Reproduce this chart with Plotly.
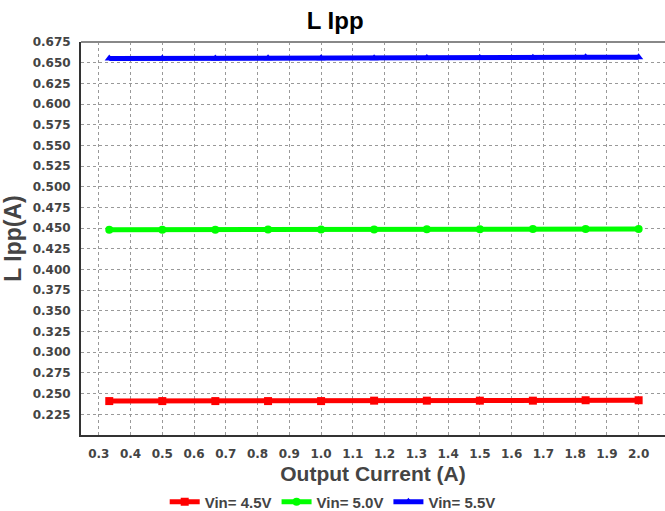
import plotly.graph_objects as go

current = [0.333, 0.5, 0.667, 0.833, 1.0, 1.167, 1.333, 1.5, 1.667, 1.833, 2.0]
vin45 = [0.241, 0.241, 0.241, 0.241, 0.241, 0.2415, 0.2415, 0.2415, 0.2415, 0.242, 0.242]
vin50 = [0.448, 0.448, 0.448, 0.4483, 0.4485, 0.4485, 0.4487, 0.4488, 0.449, 0.449, 0.449]
vin55 = [0.655, 0.655, 0.655, 0.6553, 0.6555, 0.6555, 0.6557, 0.6558, 0.656, 0.6565, 0.6567]
names = ["<b>Vin= 4.5V</b>", "<b>Vin= 5.0V</b>", "<b>Vin= 5.5V</b>"]
colors = ["#ff0000", "#00ff00", "#0000ff"]
symbols = ["square", "circle", "triangle-up"]

xticks = [0.3, 0.4, 0.5, 0.6, 0.7, 0.8, 0.9, 1.0, 1.1, 1.2, 1.3, 1.4, 1.5, 1.6, 1.7, 1.8, 1.9, 2.0]
yticks = [0.225 + 0.025 * i for i in range(19)]

font = "Liberation Sans, Arial, sans-serif"
tickfont = "DejaVu Sans, sans-serif"

fig = go.Figure()
for ys, n, c, s in zip([vin45, vin50, vin55], names, colors, symbols):
    fig.add_trace(go.Scatter(
        x=current, y=ys, name=n, mode="lines+markers",
        line=dict(color=c, width=5),
        marker=dict(color=c, size=8, symbol=s),
    ))

fig.update_layout(
    width=665, height=511,
    margin=dict(l=81, r=0, t=42, b=76),
    plot_bgcolor="white", paper_bgcolor="white",
    font=dict(family=font, color="#444444"),
    title=dict(text="<b>L Ipp</b>", x=0.504, xanchor="center", y=1 - 21 / 511, yanchor="middle",
               font=dict(size=24, color="#000000", family=font)),
    showlegend=True,
    legend=dict(orientation="h", x=0.431, xanchor="center", xref="paper",
                y=1 - 502 / 511, yanchor="middle", yref="container",
                font=dict(size=15, color="#444444", family=font),
                itemwidth=30, tracegroupgap=0),
)
fig.update_xaxes(
    range=[0.244, 2.083], tickvals=xticks, ticktext=[f"<b>{v:.1f}</b>" for v in xticks],
    showgrid=True, gridcolor="#999999", griddash="dot", gridwidth=1,
    showline=True, linecolor="#333333", linewidth=2, mirror=False,
    ticks="", tickfont=dict(size=12, color="#444444", family=tickfont), ticklabelstandoff=7,
    title=dict(text="<b>Output Current (A)</b>", font=dict(size=21, color="#444444"), standoff=11),
    zeroline=False, automargin=False,
)
fig.update_yaxes(
    range=[0.2, 0.675], tickvals=yticks, ticktext=[f"<b>{v:.3f}</b>" for v in yticks],
    showgrid=True, gridcolor="#999999", griddash="dot", gridwidth=1,
    showline=True, linecolor="#333333", linewidth=2, mirror=False,
    ticks="", tickfont=dict(size=12, color="#444444", family=tickfont), ticklabelstandoff=6,
    title=dict(text="<b>L Ipp(A)</b>", font=dict(size=23, color="#444444"), standoff=6),
    zeroline=False,
)
# top frame line
fig.add_shape(type="line", xref="paper", yref="paper", x0=0, x1=1, y0=1, y1=1,
              line=dict(color="#888888", width=2))

fig.write_html("out.html")
